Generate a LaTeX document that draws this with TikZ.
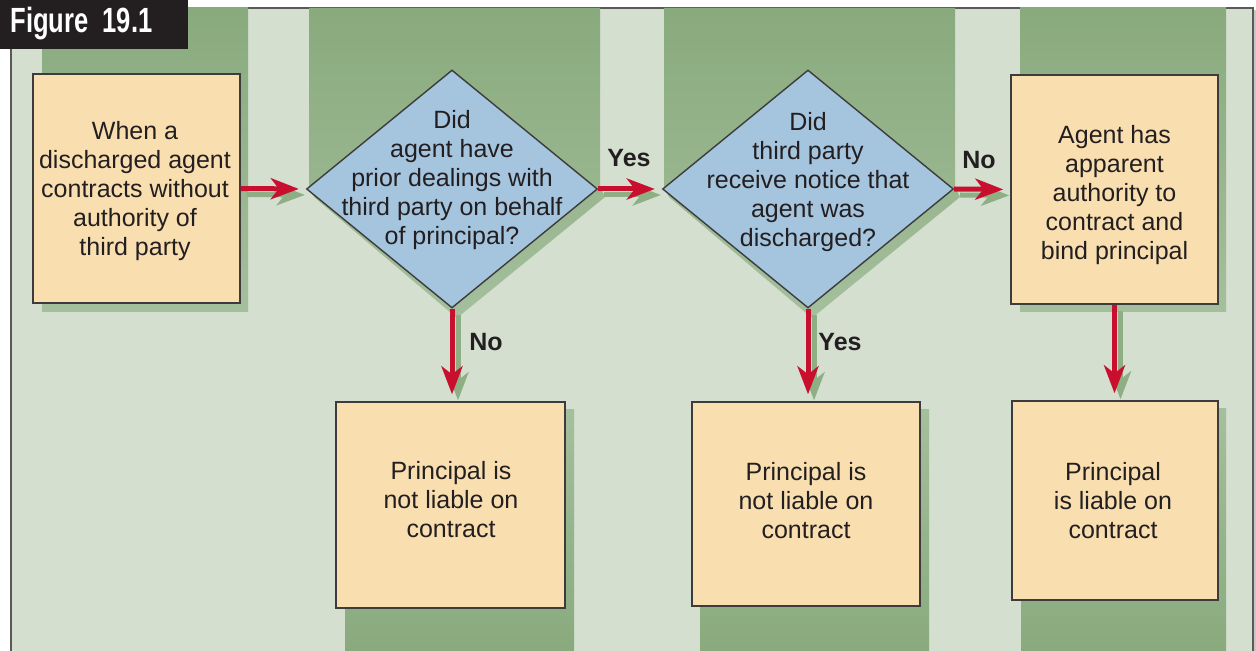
\documentclass[tikz,border=0pt]{standalone}
\usepackage{fontspec}
\setmainfont{Liberation Sans}
\usepackage{graphicx}
\usetikzlibrary{arrows.meta,shapes.geometric}
\definecolor{ink}{HTML}{231F20}
\definecolor{paper}{HTML}{D4DFD0}
\definecolor{bandDark}{HTML}{89AA7D}
\definecolor{bandLight}{HTML}{A4BF9C}
\definecolor{peach}{HTML}{F9DFB0}
\definecolor{sky}{HTML}{A5C4DE}
\definecolor{crimson}{HTML}{C8102E}
\definecolor{edge}{HTML}{3C3C3C}
\definecolor{arrowShade}{HTML}{8DAF83}

\begin{document}
\begin{tikzpicture}[x=0.5pt,y=-0.5pt,
  box/.style={draw=edge, fill=peach, line width=0.7pt, inner sep=0pt},
  question/.style={draw=edge, fill=sky, line width=0.7pt, shape=diamond, inner sep=0pt, minimum width=145.5pt, minimum height=119pt},
  qtext/.style={align=center, text=ink, font=\fontsize{12.5}{14.5}\selectfont},
  answer/.style={text=ink, inner sep=0pt, font=\fontsize{12.5}{14.5}\selectfont\bfseries},
  flowarrow/.style={-{Stealth[length=14pt, width=10.5pt, inset=4pt]}, line width=2.5pt, color=crimson, shorten >=3.5pt},
  arrowshadow/.style={flowarrow, color=arrowShade, transform canvas={xshift=3pt, yshift=-3pt}}]
  \useasboundingbox (0,0) rectangle (1256,651);
  % frame
  \fill[white] (0,0) rectangle (1256,651);
  \fill[black!22] (1253,10) rectangle (1256,651);
  \fill[paper] (11,8) rectangle (1253,651);
  \draw[edge!85, line width=0.8pt] (11,651) -- (11,8) -- (1253,8) -- (1253,651);
  % shadow bands
  \shade[top color=bandDark, bottom color=bandLight] (42,8) rectangle (248,312);
  \shade[top color=bandDark, bottom color=bandLight] (309,8) -- (600,8) -- (600,187) -- (605,197) -- (457,318) -- (314,197) -- (309,187) -- cycle;
  \shade[top color=bandDark, bottom color=bandLight] (664,8) -- (955,8) -- (955,187) -- (960,197) -- (812,318) -- (669,197) -- (664,187) -- cycle;
  \shade[top color=bandDark, bottom color=bandLight] (1020,8) rectangle (1226,312);
  \shade[top color=bandLight, bottom color=bandDark] (345,410) rectangle (574,651);
  \shade[top color=bandLight, bottom color=bandDark] (700,410) rectangle (929,651);
  \shade[top color=bandLight, bottom color=bandDark] (1021,409) rectangle (1226,651);

  % boxes and questions
  \node[box, minimum width=103.5pt, minimum height=114.5pt] (start) at (136.5,188.5) {};
  \node[qtext] (starttext) at (135,191) {When a\\discharged agent\\contracts without\\authority of\\third party};
  \node[question] (prior) at (452,189) {};
  \node[qtext] (priortext) at (452,180) {Did\\agent have\\prior dealings with\\third party on behalf\\of principal?};
  \node[question] (notice) at (808,189) {};
  \node[qtext] (noticetext) at (808,182) {Did\\third party\\receive notice that\\agent was\\discharged?};
  \node[box, minimum width=103.5pt, minimum height=114.5pt] (apparent) at (1114.5,189.5) {};
  \node[qtext] (apparenttext) at (1114.5,195.5) {Agent has\\apparent\\authority to\\contract and\\bind principal};
  \node[box, minimum width=114.5pt, minimum height=103pt] (notliableA) at (450.5,505) {};
  \node[qtext] (notliableAtext) at (451,500) {Principal is\\not liable on\\contract};
  \node[box, minimum width=114pt, minimum height=102pt] (notliableB) at (806,504) {};
  \node[qtext] (notliableBtext) at (806,501) {Principal is\\not liable on\\contract};
  \node[box, minimum width=103pt, minimum height=99.5pt] (liable) at (1115,500.5) {};
  \node[qtext] (liabletext) at (1113,500.5) {Principal\\is liable on\\contract};

  % connectors
  \foreach \from/\to in {start.east/prior.west, prior.east/notice.west, notice.east/apparent.west} {
    \draw[arrowshadow] (\from) -- (\to);
    \draw[flowarrow] (\from) -- (\to);
  }
  \foreach \from/\to in {prior/notliableA, notice/notliableB, apparent/liable} {
    \draw[arrowshadow] (\from.south) -- (\from.south |- \to.north);
    \draw[flowarrow] (\from.south) -- (\from.south |- \to.north);
  }
  \node[answer] (yesA) at (629,158) {Yes};
  \node[answer] (noA) at (979,160) {No};
  \node[answer] (noB) at (486,342) {No};
  \node[answer] (yesB) at (840,342) {Yes};

  % figure tag
  \fill[ink] (0,0) rectangle (188,49);
  \node[anchor=base west, text=white, inner sep=0pt, font=\fontsize{17.5}{20}\selectfont\bfseries] (tag) at (10,33) {\scalebox{0.73}[1]{Figure\ \ 19.1}};
\end{tikzpicture}
\end{document}
